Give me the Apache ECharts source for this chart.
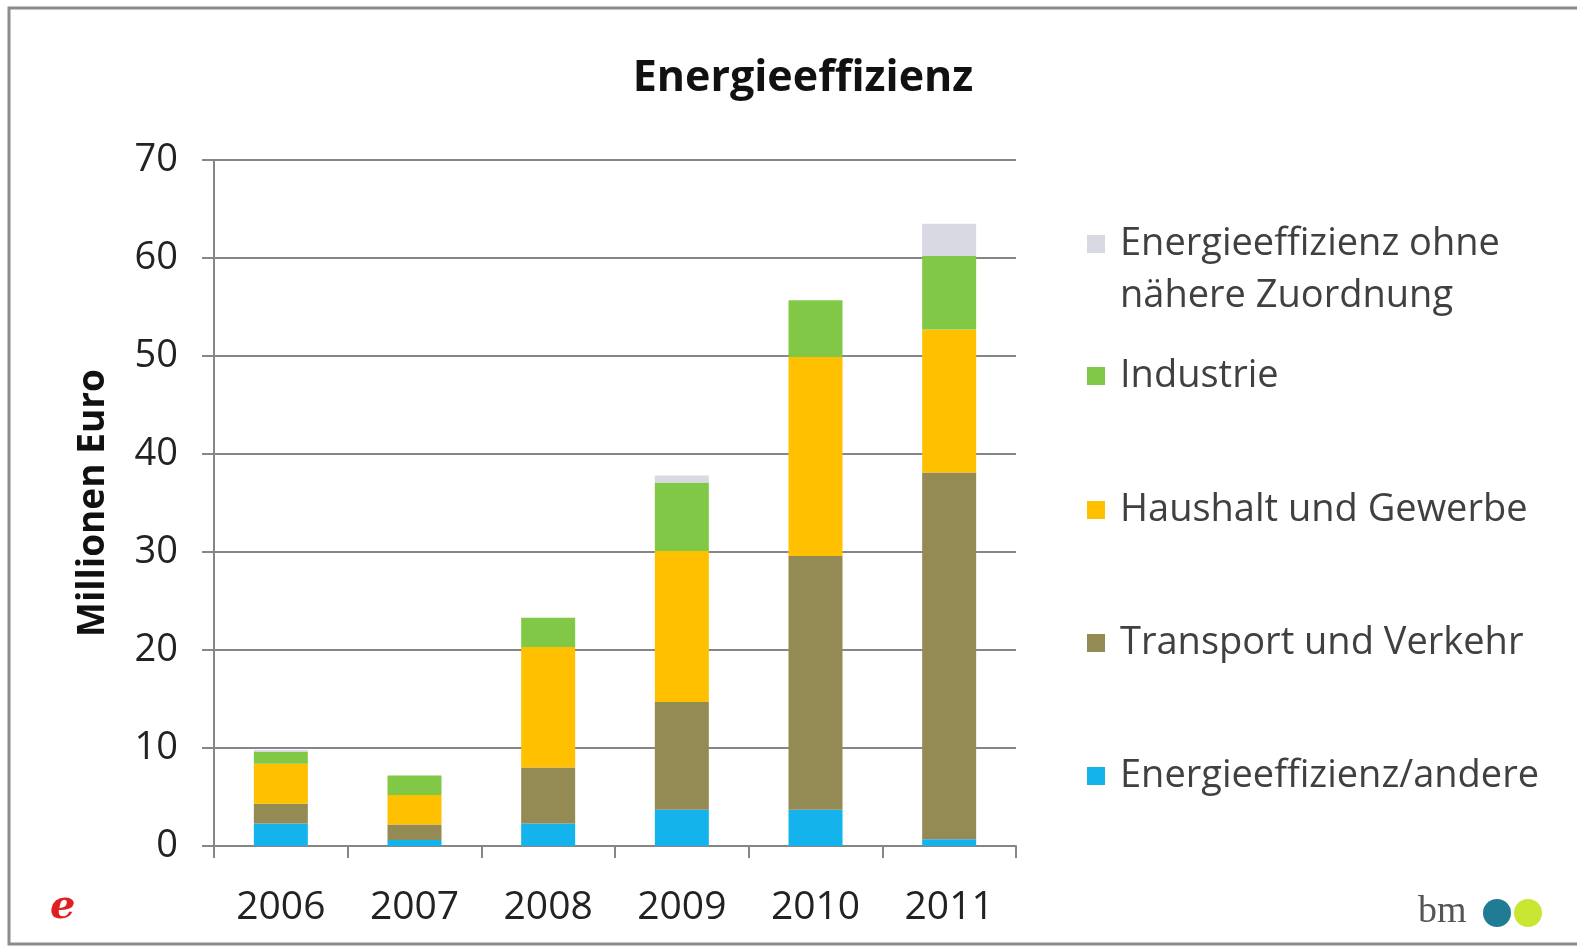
<!DOCTYPE html>
<html>
<head>
<meta charset="utf-8">
<script src="https://cdn.jsdelivr.net/npm/echarts@6/dist/echarts.min.js"></script>
<style>
  html, body { margin: 0; padding: 0; background: #fff; }
  #main { width: 1577px; height: 952px; }
</style>
</head>
<body>
<div id="main"></div>
<script>
var chartDom = document.getElementById('main');
var myChart = echarts.init(chartDom);
var option;

var years = ['2006', '2007', '2008', '2009', '2010', '2011'];
var yTicks = [0, 10, 20, 30, 40, 50, 60, 70];

// Millionen Euro
var andere = [2.3, 0.6, 2.3, 3.7, 3.7, 0.7];
var transport = [2.0, 1.6, 5.7, 11.0, 25.9, 37.4];
var haushalt = [4.1, 3.0, 12.3, 15.4, 20.3, 14.6];
var industrie = [1.2, 2.0, 3.0, 7.0, 5.8, 7.5];
var ohneZuordnung = [0.2, 0, 0, 0.7, 0, 3.3];

var names = ['Energieeffizienz/andere', 'Transport und Verkehr', 'Haushalt und Gewerbe', 'Industrie', 'Energieeffizienz ohne nähere Zuordnung'];
var colors = ['#14b3ec', '#948a54', '#ffc000', '#80c846', '#d9d9e3'];
var values = [andere, transport, haushalt, industrie, ohneZuordnung];

var font = '"Open Sans", Lato, sans-serif';
// vertical centre of each legend row
var legendMid = [776, 643, 510, 376, 244];

var series = names.map(function (n, i) {
    return {
        name: n,
        type: 'bar',
        stack: 'total',
        barWidth: 54,
        itemStyle: { color: colors[i] },
        data: values[i]
    };
});

var legends = names.map(function (n, i) {
    return {
        data: [n],
        left: 1087,
        top: legendMid[i] - 22,
        padding: 0,
        itemWidth: 18,
        itemHeight: 18,
        icon: 'rect',
        formatter: function (name) {
            return name === names[4] ? 'Energieeffizienz ohne' : name;
        },
        textStyle: { fontFamily: font, fontSize: 38, lineHeight: 44, color: '#404040', padding: [0, 0, 0, 10] }
    };
});

option = {
    backgroundColor: '#fff',
    animation: false,
    title: {
        text: 'Energieeffizienz',
        left: 798,
        textAlign: 'center',
        top: 52,
        textStyle: { fontFamily: font, fontSize: 43, fontWeight: 'bold', color: '#111' }
    },
    legend: legends,
    grid: { left: 214, right: 561, top: 160, bottom: 106 },
    xAxis: {
        type: 'category',
        data: years,
        axisLine: { lineStyle: { color: '#868686', width: 2 } },
        axisTick: { show: true, length: 12, lineStyle: { color: '#868686', width: 2 } },
        axisLabel: { fontFamily: font, fontSize: 39, color: '#222', margin: 42 }
    },
    yAxis: {
        type: 'value',
        min: yTicks[0],
        max: yTicks[yTicks.length - 1],
        interval: 10,
        name: 'Millionen Euro',
        nameLocation: 'middle',
        nameGap: 102,
        nameTextStyle: { fontFamily: font, fontSize: 37, fontWeight: 'bold', color: '#111' },
        axisLine: { show: true, lineStyle: { color: '#868686', width: 2 } },
        axisTick: { show: true, length: 12, lineStyle: { color: '#868686', width: 2 } },
        axisLabel: { fontFamily: font, fontSize: 38, color: '#222', margin: 36 },
        splitLine: { lineStyle: { color: '#868686', width: 2 } }
    },
    graphic: [
        {
            type: 'rect',
            shape: { x: 9, y: 8, width: 1600, height: 936 },
            style: { fill: 'none', stroke: '#8c8c8c', lineWidth: 3 },
            silent: true
        },
        {
            type: 'text',
            x: 1120,
            y: 296,
            style: { text: 'nähere Zuordnung', font: '38px ' + font, fill: '#404040', verticalAlign: 'middle' }
        },
        {
            type: 'text',
            left: 50,
            top: 888,
            style: { text: 'e', font: 'italic bold 40px "DejaVu Serif", serif', fill: '#e02020' }
        },
        {
            type: 'text',
            left: 1418,
            top: 893,
            style: { text: 'bm', font: '38px "Liberation Serif", serif', fill: '#555' }
        },
        {
            type: 'circle',
            shape: { cx: 1497, cy: 913, r: 14 },
            style: { fill: '#1f7c94' }
        },
        {
            type: 'circle',
            shape: { cx: 1528, cy: 913, r: 14 },
            style: { fill: '#c8e632' }
        }
    ],
    series: series
};

option && myChart.setOption(option);
</script>
</body>
</html>
